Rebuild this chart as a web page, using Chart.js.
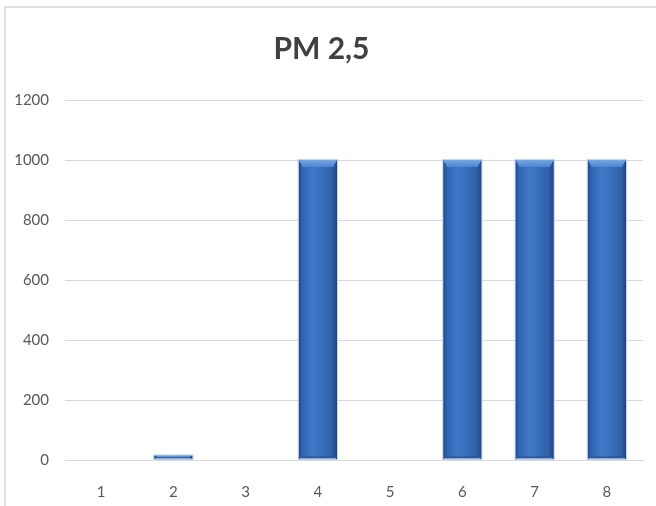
<!DOCTYPE html>
<html>
<head>
<meta charset="utf-8">
<script src="https://cdn.jsdelivr.net/npm/chart.js@4.4.1/dist/chart.umd.min.js"></script>
<style>
    html, body { margin: 0; padding: 0; background: #ffffff; overflow: hidden; }
    #wrap { position: relative; width: 656px; height: 506px; }
</style>
</head>
<body>
<div id="wrap"><canvas id="pmChart" width="656" height="506"></canvas></div>
<script>
// --- DATA ---
const categories = ['1', '2', '3', '4', '5', '6', '7', '8'];
const pm25Values = [0, 15, 0, 1000, 0, 1000, 1000, 1000];
const yMin = 0;
const yMax = 1200;
const yStep = 200;
const chartTitle = 'PM 2,5';

const labelFont = "Lato, 'Liberation Sans', sans-serif";
const titleFont = "Lato, 'Liberation Sans', sans-serif";

// frame around the chart like the office chart border
const framePlugin = {
    id: 'frame',
    beforeDraw(chart) {
        const ctx = chart.ctx;
        ctx.save();
        ctx.strokeStyle = '#d9d9d9';
        ctx.lineWidth = 1.5;
        ctx.strokeRect(5, 7, 700, 600);
        ctx.restore();
    }
};

// cylinder / bevel look on each bar
const bevelPlugin = {
    id: 'bevel',
    afterDatasetsDraw(chart) {
        const ctx = chart.ctx;
        const meta = chart.getDatasetMeta(0);
        meta.data.forEach((bar) => {
            const h = bar.base - bar.y;
            if (h <= 0.5) return;
            const left = bar.x - bar.width / 2;
            const right = bar.x + bar.width / 2;
            const w = bar.width;

            ctx.save();
            // body
            const g = ctx.createLinearGradient(left, 0, right, 0);
            g.addColorStop(0, '#22498a');
            g.addColorStop(0.1, '#3264b0');
            g.addColorStop(0.35, '#3f79c8');
            g.addColorStop(0.6, '#396fbd');
            g.addColorStop(0.88, '#2f5ea5');
            g.addColorStop(1, '#1f4580');
            ctx.fillStyle = g;
            ctx.fillRect(left, bar.y, w, h);

            // top bevel
            const b = Math.min(7, h / 2);
            const tg = ctx.createLinearGradient(0, bar.y, 0, bar.y + b);
            tg.addColorStop(0, '#78a6e3');
            tg.addColorStop(1, '#4a84d3');
            ctx.fillStyle = tg;
            ctx.beginPath();
            ctx.moveTo(left, bar.y);
            ctx.lineTo(right, bar.y);
            ctx.lineTo(right - 4, bar.y + b);
            ctx.lineTo(left + 4, bar.y + b);
            ctx.closePath();
            ctx.fill();

            // bottom bevel
            ctx.fillStyle = '#2a5596';
            ctx.beginPath();
            ctx.moveTo(left + 3, bar.base - Math.min(3, h / 2));
            ctx.lineTo(right - 3, bar.base - Math.min(3, h / 2));
            ctx.lineTo(right, bar.base);
            ctx.lineTo(left, bar.base);
            ctx.closePath();
            ctx.fill();
            ctx.strokeStyle = '#b7cbe9';
            ctx.lineWidth = 1.2;
            ctx.beginPath();
            ctx.moveTo(left + 1, bar.base - 0.6);
            ctx.lineTo(right - 1, bar.base - 0.6);
            ctx.stroke();

            // light outline
            ctx.strokeStyle = 'rgba(190, 208, 236, 0.9)';
            ctx.lineWidth = 1;
            ctx.strokeRect(left - 0.5, bar.y - 0.5, w + 1, h + 0.5);
            ctx.restore();
        });
    }
};

document.addEventListener('DOMContentLoaded', () => {
    const ctx = document.getElementById('pmChart').getContext('2d');

    new Chart(ctx, {
        type: 'bar',
        data: {
            labels: categories,
            datasets: [{
                data: pm25Values,
                backgroundColor: '#3a6fbf',
                borderWidth: 0,
                barPercentage: 0.53,
                categoryPercentage: 1
            }]
        },
        options: {
            responsive: false,
            animation: false,
            layout: {
                padding: { left: 0, right: 13, top: 0, bottom: 0 }
            },
            plugins: {
                legend: { display: false },
                tooltip: { enabled: false },
                title: {
                    display: true,
                    text: chartTitle,
                    color: '#404040',
                    font: { family: titleFont, size: 30, weight: 'bold' },
                    padding: { top: 31, bottom: 33 }
                }
            },
            scales: {
                x: {
                    grid: { display: false, drawTicks: false },
                    border: { display: true, color: '#d9d9d9', width: 1 },
                    ticks: {
                        color: '#595959',
                        font: { family: labelFont, size: 15 },
                        padding: 23
                    },
                    afterFit(scale) { scale.height = 46; }
                },
                y: {
                    min: yMin,
                    max: yMax,
                    grid: { color: '#d9d9d9', lineWidth: 1, drawTicks: false },
                    border: { display: false },
                    ticks: {
                        stepSize: yStep,
                        color: '#595959',
                        font: { family: labelFont, size: 15 },
                        padding: 16,
                        callback: (value) => String(value)
                    },
                    afterFit(scale) { scale.width = 65; }
                }
            }
        },
        plugins: [framePlugin, bevelPlugin]
    });
});
</script>
</body>
</html>
